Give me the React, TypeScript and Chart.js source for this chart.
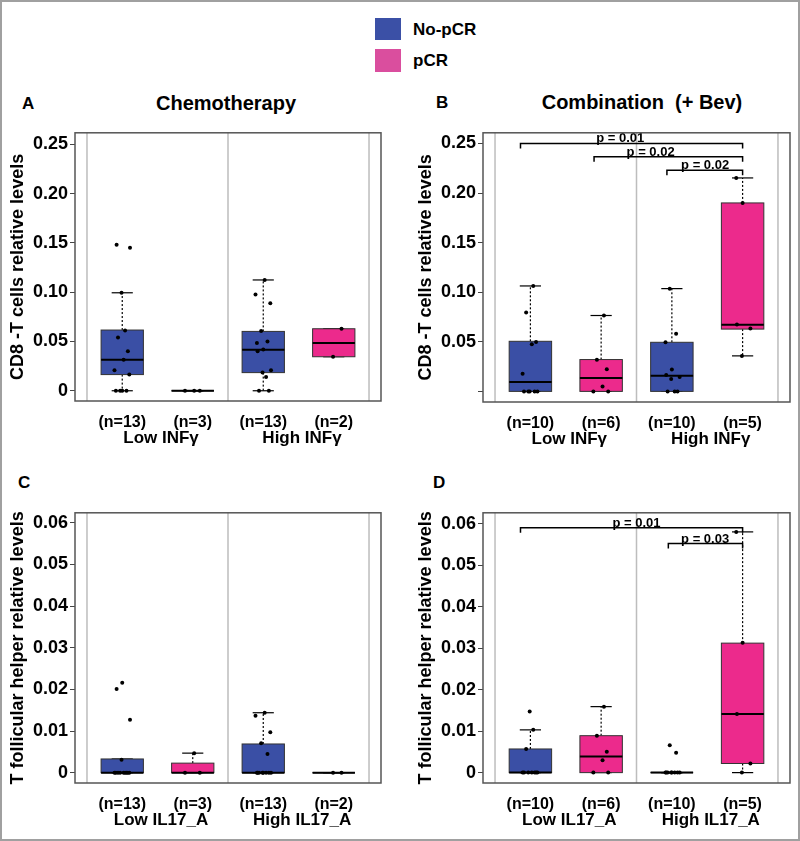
import React, { useEffect, useRef } from 'react';
import { Chart, registerables } from 'chart.js';

Chart.register(...registerables);

const FONT = "'Liberation Sans', Arial, Helvetica, sans-serif";

// ---------- shared data ----------
const CATEGORIES = [0, 1, 2, 3];
const CATEGORY_SERIES = ['No-pCR', 'pCR', 'No-pCR', 'pCR'];
const LEGEND_LABELS = ['No-pCR', 'pCR'];
const SERIES_COLORS: Record<string, string> = { 'No-pCR': '#3A4FA5', pCR: '#EC2A8C' };
const LEGEND_COLORS = ['#3B50A6', '#DA4E9E'];
const SEPARATORS = [-0.5, 1.5, 3.5];
const GROUP_AT = [0.55, 2.55];

// ---------- Panel A ----------
const A_TITLE = 'Chemotherapy';
const A_Y_TITLE = 'CD8 -T cells relative levels';
const A_COUNTS = ['(n=13)', '(n=3)', '(n=13)', '(n=2)'];
const A_GROUPS = ['Low INFγ', 'High INFγ'];
const A_TICKS = [0, 0.05, 0.1, 0.15, 0.2, 0.25];
const A_TICK_LABELS = ['0', '0.05', '0.10', '0.15', '0.20', '0.25'];
const A_WHISKER_LOW = [0, 0, 0, 0.0345];
const A_Q1 = [0.0164, 0, 0.0184, 0.0345];
const A_MEDIAN = [0.0315, 0, 0.0415, 0.0485];
const A_Q3 = [0.0616, 0, 0.0602, 0.0629];
const A_WHISKER_HIGH = [0.0994, 0, 0.1124, 0.0629];
const A_POINTS_LOW_NOPCR = [0, 0, 0, 0.0164, 0.0207, 0.0315, 0.04, 0.0539, 0.0612, 0.0994, 0.145, 0.148, 0];
const A_POINTS_LOW_PCR = [0, 0, 0];
const A_POINTS_HIGH_NOPCR = [0, 0, 0.014, 0.0184, 0.0207, 0.04, 0.0418, 0.0485, 0.0499, 0.0606, 0.0887, 0.0977, 0.1124];
const A_POINTS_HIGH_PCR = [0.0345, 0.0629];

// ---------- Panel B ----------
const B_TITLE = 'Combination  (+ Bev)';
const B_Y_TITLE = 'CD8 -T cells relative levels';
const B_COUNTS = ['(n=10)', '(n=6)', '(n=10)', '(n=5)'];
const B_GROUPS = ['Low INFγ', 'High INFγ'];
const B_TICKS = [0, 0.05, 0.1, 0.15, 0.2, 0.25];
const B_TICK_LABELS = ['', '0.05', '0.10', '0.15', '0.20', '0.25'];
const B_WHISKER_LOW = [0, 0, 0, 0.0358];
const B_Q1 = [0, 0, 0, 0.0628];
const B_MEDIAN = [0.0094, 0.0134, 0.0157, 0.0672];
const B_Q3 = [0.0505, 0.0321, 0.0495, 0.19];
const B_WHISKER_HIGH = [0.1063, 0.0765, 0.1036, 0.2152];
const B_POINTS_LOW_NOPCR = [0, 0, 0, 0, 0.0177, 0.0475, 0.0498, 0.0795, 0.1063, 0];
const B_POINTS_LOW_PCR = [0, 0, 0.005, 0.0224, 0.0318, 0.0765];
const B_POINTS_HIGH_NOPCR = [0, 0, 0, 0.0124, 0.0144, 0.0164, 0.0221, 0.0495, 0.0582, 0.1036];
const B_POINTS_HIGH_PCR = [0.0358, 0.0635, 0.0675, 0.19, 0.2152];
const B_BRACKET_FROM = [-0.14, 0.9, 1.93];
const B_BRACKET_TO = [3, 3, 3];
const B_BRACKET_Y = [0.25, 0.2366, 0.2229];
const B_BRACKET_LABELS = ['p = 0.01', 'p = 0.02', 'p = 0.02'];
const B_BRACKET_LABEL_AT = [1.27, 1.7, 2.47];

// ---------- Panel C ----------
const C_Y_TITLE = 'T follicular helper relative levels';
const C_COUNTS = ['(n=13)', '(n=3)', '(n=13)', '(n=2)'];
const C_GROUPS = ['Low IL17_A', 'High IL17_A'];
const C_TICKS = [0, 0.01, 0.02, 0.03, 0.04, 0.05, 0.06];
const C_TICK_LABELS = ['0', '0.01', '0.02', '0.03', '0.04', '0.05', '0.06'];
const C_WHISKER_LOW = [0, 0, 0, 0];
const C_Q1 = [0, 0, 0, 0];
const C_MEDIAN = [0, 0, 0, 0];
const C_Q3 = [0.0033, 0.0023, 0.0069, 0];
const C_WHISKER_HIGH = [0.0033, 0.0047, 0.0144, 0];
const C_POINTS_LOW_NOPCR = [0, 0, 0, 0, 0, 0, 0, 0, 0, 0.0031, 0.0127, 0.0201, 0.0216];
const C_POINTS_LOW_PCR = [0, 0, 0.0047];
const C_POINTS_HIGH_NOPCR = [0, 0, 0, 0, 0, 0, 0, 0, 0.0045, 0.0071, 0.0097, 0.0137, 0.0144];
const C_POINTS_HIGH_PCR = [0, 0];

// ---------- Panel D ----------
const D_Y_TITLE = 'T follicular helper relative levels';
const D_COUNTS = ['(n=10)', '(n=6)', '(n=10)', '(n=5)'];
const D_GROUPS = ['Low IL17_A', 'High IL17_A'];
const D_TICKS = [0, 0.01, 0.02, 0.03, 0.04, 0.05, 0.06];
const D_TICK_LABELS = ['0', '0.01', '0.02', '0.03', '0.04', '0.05', '0.06'];
const D_WHISKER_LOW = [0, 0, 0, 0];
const D_Q1 = [0, 0, 0, 0.0022];
const D_MEDIAN = [0, 0.0039, 0, 0.0141];
const D_Q3 = [0.0057, 0.0089, 0, 0.0312];
const D_WHISKER_HIGH = [0.0103, 0.0159, 0, 0.058];
const D_POINTS_LOW_NOPCR = [0, 0, 0, 0, 0, 0, 0, 0.0057, 0.0103, 0.0147];
const D_POINTS_LOW_PCR = [0, 0, 0.003, 0.005, 0.0089, 0.0159];
const D_POINTS_HIGH_NOPCR = [0, 0, 0, 0, 0, 0, 0, 0, 0.0048, 0.0066];
const D_POINTS_HIGH_PCR = [0, 0.0022, 0.0141, 0.0313, 0.058];
const D_BRACKET_FROM = [-0.14, 1.95];
const D_BRACKET_TO = [3, 3];
const D_BRACKET_Y = [0.059, 0.0552];
const D_BRACKET_LABELS = ['p = 0.01', 'p = 0.03'];
const D_BRACKET_LABEL_AT = [1.5, 2.47];

// ---------- style constants ----------
const JITTER = [-0.09, 0.06, -0.03, 0.1, -0.11, 0.02, 0.08, -0.06, 0.04, -0.01, 0.11, -0.08, 0.0];
const X_MIN = -0.67;
const X_MAX = 3.67;
const BOX_HALF = 0.3;
const CAP_HALF = 0.15;
const Y_AXIS_WIDTH = 75;

type PanelCfg = {
  left: number; top: number; width: number; height: number;
  padLeft: number; padRight: number; padTop: number; xHeight: number;
  yMin: number; yMax: number; yTicks: number[]; yTickLabels: string[];
  yTitle: string; counts: string[]; groups: string[];
  whiskerLow: number[]; q1: number[]; median: number[]; q3: number[]; whiskerHigh: number[];
  points: number[][];
  bracketFrom: number[]; bracketTo: number[]; bracketY: number[]; bracketLabels: string[]; bracketLabelAt: number[];
};

const PANELS: PanelCfg[] = [
  {
    left: 0, top: 120, width: 400, height: 340, padLeft: 0, padRight: 19, padTop: 10, xHeight: 59,
    yMin: -0.0104, yMax: 0.2617, yTicks: A_TICKS, yTickLabels: A_TICK_LABELS, yTitle: A_Y_TITLE,
    counts: A_COUNTS, groups: A_GROUPS,
    whiskerLow: A_WHISKER_LOW, q1: A_Q1, median: A_MEDIAN, q3: A_Q3, whiskerHigh: A_WHISKER_HIGH,
    points: [A_POINTS_LOW_NOPCR, A_POINTS_LOW_PCR, A_POINTS_HIGH_NOPCR, A_POINTS_HIGH_PCR],
    bracketFrom: [], bracketTo: [], bracketY: [], bracketLabels: [], bracketLabelAt: [],
  },
  {
    left: 400, top: 120, width: 400, height: 340, padLeft: 8, padRight: 10, padTop: 12, xHeight: 58,
    yMin: -0.0107, yMax: 0.2607, yTicks: B_TICKS, yTickLabels: B_TICK_LABELS, yTitle: B_Y_TITLE,
    counts: B_COUNTS, groups: B_GROUPS,
    whiskerLow: B_WHISKER_LOW, q1: B_Q1, median: B_MEDIAN, q3: B_Q3, whiskerHigh: B_WHISKER_HIGH,
    points: [B_POINTS_LOW_NOPCR, B_POINTS_LOW_PCR, B_POINTS_HIGH_NOPCR, B_POINTS_HIGH_PCR],
    bracketFrom: B_BRACKET_FROM, bracketTo: B_BRACKET_TO, bracketY: B_BRACKET_Y,
    bracketLabels: B_BRACKET_LABELS, bracketLabelAt: B_BRACKET_LABEL_AT,
  },
  {
    left: 0, top: 500, width: 400, height: 340, padLeft: 0, padRight: 19, padTop: 12, xHeight: 57,
    yMin: -0.00247, yMax: 0.0624, yTicks: C_TICKS, yTickLabels: C_TICK_LABELS, yTitle: C_Y_TITLE,
    counts: C_COUNTS, groups: C_GROUPS,
    whiskerLow: C_WHISKER_LOW, q1: C_Q1, median: C_MEDIAN, q3: C_Q3, whiskerHigh: C_WHISKER_HIGH,
    points: [C_POINTS_LOW_NOPCR, C_POINTS_LOW_PCR, C_POINTS_HIGH_NOPCR, C_POINTS_HIGH_PCR],
    bracketFrom: [], bracketTo: [], bracketY: [], bracketLabels: [], bracketLabelAt: [],
  },
  {
    left: 400, top: 500, width: 400, height: 340, padLeft: 8, padRight: 10, padTop: 12, xHeight: 57,
    yMin: -0.0025, yMax: 0.0626, yTicks: D_TICKS, yTickLabels: D_TICK_LABELS, yTitle: D_Y_TITLE,
    counts: D_COUNTS, groups: D_GROUPS,
    whiskerLow: D_WHISKER_LOW, q1: D_Q1, median: D_MEDIAN, q3: D_Q3, whiskerHigh: D_WHISKER_HIGH,
    points: [D_POINTS_LOW_NOPCR, D_POINTS_LOW_PCR, D_POINTS_HIGH_NOPCR, D_POINTS_HIGH_PCR],
    bracketFrom: D_BRACKET_FROM, bracketTo: D_BRACKET_TO, bracketY: D_BRACKET_Y,
    bracketLabels: D_BRACKET_LABELS, bracketLabelAt: D_BRACKET_LABEL_AT,
  },
];

function line(ctx: CanvasRenderingContext2D, x1: number, y1: number, x2: number, y2: number) {
  ctx.beginPath();
  ctx.moveTo(x1, y1);
  ctx.lineTo(x2, y2);
  ctx.stroke();
}

function makeBoxPlugin(cfg: PanelCfg) {
  return {
    id: 'boxes',
    beforeDatasetsDraw(chart: any) {
      const { ctx, chartArea: a, scales } = chart;
      const x = scales.x;
      const y = scales.y;
      ctx.save();
      // separators
      ctx.strokeStyle = '#bdbdbd';
      ctx.lineWidth = 1.5;
      SEPARATORS.forEach((v) => {
        const px = x.getPixelForValue(v);
        line(ctx, px, a.top, px, a.bottom);
      });
      // boxes
      CATEGORIES.forEach((c, i) => {
        const cx = x.getPixelForValue(c);
        const hw = x.getPixelForValue(c + BOX_HALF) - cx;
        const cw = x.getPixelForValue(c + CAP_HALF) - cx;
        const yLow = y.getPixelForValue(cfg.whiskerLow[i]);
        const yQ1 = y.getPixelForValue(cfg.q1[i]);
        const yMed = y.getPixelForValue(cfg.median[i]);
        const yQ3 = y.getPixelForValue(cfg.q3[i]);
        const yHigh = y.getPixelForValue(cfg.whiskerHigh[i]);
        ctx.strokeStyle = '#000';
        ctx.lineWidth = 1.2;
        ctx.setLineDash([2, 2]);
        line(ctx, cx, yQ3, cx, yHigh);
        line(ctx, cx, yQ1, cx, yLow);
        ctx.setLineDash([]);
        line(ctx, cx - cw, yHigh, cx + cw, yHigh);
        line(ctx, cx - cw, yLow, cx + cw, yLow);
        ctx.fillStyle = SERIES_COLORS[CATEGORY_SERIES[i]];
        ctx.fillRect(cx - hw, yQ3, 2 * hw, yQ1 - yQ3);
        ctx.strokeStyle = '#333';
        ctx.lineWidth = 1;
        ctx.strokeRect(cx - hw, yQ3, 2 * hw, yQ1 - yQ3);
        ctx.strokeStyle = '#000';
        ctx.lineWidth = 2;
        line(ctx, cx - hw, yMed, cx + hw, yMed);
      });
      // significance brackets
      ctx.strokeStyle = '#000';
      ctx.lineWidth = 1.5;
      ctx.fillStyle = '#000';
      ctx.font = `bold 13px ${FONT}`;
      ctx.textAlign = 'center';
      ctx.textBaseline = 'bottom';
      cfg.bracketY.forEach((v, i) => {
        const py = y.getPixelForValue(v);
        const x1 = x.getPixelForValue(cfg.bracketFrom[i]);
        const x2 = x.getPixelForValue(cfg.bracketTo[i]);
        ctx.beginPath();
        ctx.moveTo(x1, py + 5);
        ctx.lineTo(x1, py);
        ctx.lineTo(x2, py);
        ctx.lineTo(x2, py + 5);
        ctx.stroke();
        ctx.fillText(cfg.bracketLabels[i], x.getPixelForValue(cfg.bracketLabelAt[i]), py + 2);
      });
      ctx.restore();
    },
    afterDraw(chart: any) {
      const { ctx, chartArea: a, scales } = chart;
      ctx.save();
      ctx.strokeStyle = '#555';
      ctx.lineWidth = 1.5;
      ctx.strokeRect(a.left, a.top, a.right - a.left, a.bottom - a.top);
      ctx.fillStyle = '#000';
      ctx.font = `bold 17px ${FONT}`;
      ctx.textAlign = 'center';
      ctx.textBaseline = 'middle';
      cfg.groups.forEach((g, i) => {
        ctx.fillText(g, scales.x.getPixelForValue(GROUP_AT[i]), a.bottom + 37);
      });
      ctx.restore();
    },
  };
}

function Panel({ cfg }: { cfg: PanelCfg }) {
  const ref = useRef<HTMLCanvasElement>(null);
  useEffect(() => {
    const canvas = ref.current;
    if (!canvas) return;
    const datasets = cfg.points.map((vals, i) => ({
      type: 'scatter' as const,
      data: vals.map((v, j) => ({ x: CATEGORIES[i] + JITTER[(j + i * 3) % JITTER.length], y: v })),
      pointRadius: 2,
      pointHoverRadius: 2,
      pointBackgroundColor: '#000',
      pointBorderWidth: 0,
      borderWidth: 0,
    }));
    const chart = new Chart(canvas, {
      type: 'scatter',
      data: { datasets },
      options: {
        responsive: false,
        animation: false,
        devicePixelRatio: 1,
        events: [],
        layout: { padding: { left: cfg.padLeft, right: cfg.padRight, top: cfg.padTop, bottom: 0 } },
        plugins: { legend: { display: false }, tooltip: { enabled: false } },
        scales: {
          x: {
            type: 'linear',
            min: X_MIN,
            max: X_MAX,
            afterBuildTicks: (s: any) => { s.ticks = CATEGORIES.map((v) => ({ value: v })); },
            afterFit: (s: any) => { s.height = cfg.xHeight; },
            grid: { display: false },
            border: { display: false },
            ticks: {
              autoSkip: false,
              maxRotation: 0,
              padding: 4,
              color: '#000',
              font: { family: FONT, size: 16, weight: 'bold' },
              callback: (_v: any, i: number) => cfg.counts[i],
            },
          },
          y: {
            type: 'linear',
            min: cfg.yMin,
            max: cfg.yMax,
            afterBuildTicks: (s: any) => { s.ticks = cfg.yTicks.map((v) => ({ value: v })); },
            afterFit: (s: any) => { s.width = Y_AXIS_WIDTH; },
            grid: { display: true, drawOnChartArea: false, drawTicks: true, tickLength: 5, color: '#444', lineWidth: 1 },
            border: { display: false },
            ticks: {
              autoSkip: false,
              padding: 2,
              color: '#000',
              font: { family: FONT, size: 18, weight: 'bold' },
              callback: (_v: any, i: number) => cfg.yTickLabels[i],
            },
            title: {
              display: true,
              text: cfg.yTitle,
              color: '#000',
              font: { family: FONT, size: 18, weight: 'bold' },
              padding: { top: 7, bottom: 0 },
            },
          },
        },
      } as any,
      plugins: [makeBoxPlugin(cfg)],
    });
    return () => chart.destroy();
  }, [cfg]);
  return (
    <canvas
      ref={ref}
      width={cfg.width}
      height={cfg.height}
      style={{ position: 'absolute', left: cfg.left, top: cfg.top, width: cfg.width, height: cfg.height }}
    />
  );
}

function Label({ text, x, y, size, center }: { text: string; x: number; y: number; size: number; center?: boolean }) {
  return (
    <div
      style={{
        position: 'absolute',
        left: x,
        top: y,
        transform: center ? 'translate(-50%, -50%)' : 'translate(0, -50%)',
        fontFamily: FONT,
        fontWeight: 'bold',
        fontSize: size,
        color: '#000',
        whiteSpace: 'pre',
        lineHeight: 1,
      }}
    >
      {text}
    </div>
  );
}

export default function App() {
  return (
    <div style={{ position: 'absolute', left: 0, top: 0, width: 800, height: 841, background: '#fff', overflow: 'hidden' }}>
      {/* legend */}
      <div style={{ position: 'absolute', left: 375, top: 18, width: 26, height: 22, background: LEGEND_COLORS[0] }} />
      <div style={{ position: 'absolute', left: 375, top: 49, width: 26, height: 23, background: LEGEND_COLORS[1] }} />
      <Label text={LEGEND_LABELS[0]} x={413} y={29} size={17} />
      <Label text={LEGEND_LABELS[1]} x={413} y={60} size={17} />
      {/* panel letters and titles */}
      <Label text="A" x={22} y={103} size={17} />
      <Label text={A_TITLE} x={226} y={103} size={20} center />
      <Label text="B" x={436} y={102} size={17} />
      <Label text={B_TITLE} x={642} y={102} size={20} center />
      <Label text="C" x={18} y={482} size={17} />
      <Label text="D" x={433} y={482} size={17} />
      {PANELS.map((p, i) => (
        <Panel key={i} cfg={p} />
      ))}
      <div style={{ position: 'absolute', left: 0, top: 0, width: 800, height: 841, boxSizing: 'border-box', border: '2px solid #a0a0a0', pointerEvents: 'none' }} />
    </div>
  );
}
